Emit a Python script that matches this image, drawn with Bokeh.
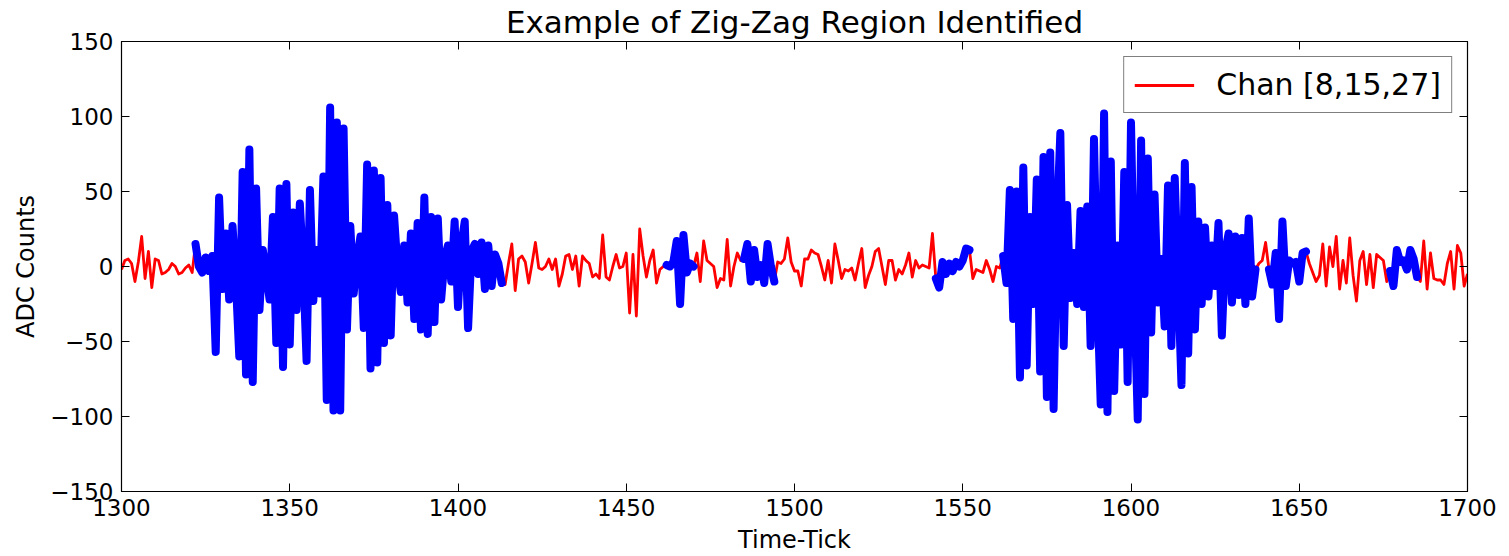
import numpy as np
from bokeh.plotting import figure
from bokeh.models import (Range1d, FixedTicker, LinearAxis, Legend, LegendItem,
                          CustomJSTickFormatter)
from bokeh.embed import file_html
from bokeh.resources import INLINE

# ---- data -------------------------------------------------------------
tick_start = 1300
adc_counts = [
    -2, 4, 5, 2, -10, 3, 20, -8, 10, -14,
    5, 4, -5, -4, -2, 2, 0, -5, -4, -1,
    1, -4, 15, 0, -4, 6, -3, 7, -57, 46,
    -15, 22, -22, 27, -10, -60, 63, -72, 78, -77,
    52, -29, 11, -5, -22, 33, -51, 52, -67, 55,
    -52, 36, -29, 42, 0, -63, 51, -23, 11, -18,
    60, -89, 106, -96, 96, -96, 92, -42, 27, -18,
    5, 20, -41, 68, -68, 64, -64, 59, -51, 41,
    -46, 34, 0, -17, 14, -24, 22, -35, 29, -42,
    46, -45, 33, -37, 32, -22, 5, 14, -10, 30,
    -27, 15, 30, -41, 10, 15, -5, 16, -15, 14,
    -13, 8, 2, -11, -12, 2, 15, -16, 5, 7,
    3, -11, 2, 16, -1, -2, 0, 5, -2, 5,
    -13, -5, 7, 8, -2, 7, -13, 7, 4, 2,
    -7, -5, -8, 21, -7, -9, 0, 8, -1, 0,
    9, -31, 8, -33, 25, 7, -7, 4, 11, -11,
    -2, 0, 1, 0, 3, 17, -25, 21, -4, 2,
    0, 9, -10, 17, 4, 2, 0, -14, -8, -9,
    18, -13, 0, 9, 4, 5, 15, -10, 11, -7,
    1, -11, 15, 0, -10, 3, 2, 5, 19, 3,
    -3, -3, -13, 5, 5, 11, 9, 8, 0, -9,
    4, -11, 15, 4, -8, -2, -3, -1, -9, 2,
    12, -14, -6, 0, 10, 12, 0, -12, 4, 4,
    -9, -2, -5, 1, 9, -7, 4, -1, 1, 0,
    -1, 22, -8, -14, 3, -5, 2, -3, 3, 0,
    4, 12, 11, -8, -2, -3, -4, 4, -2, -10,
    0, -1, 7, -11, 51, -35, 50, -74, 66, -66,
    33, -25, 58, -70, 73, -87, 76, -95, 30, 89,
    -53, 41, -21, 9, -25, 37, -27, 40, -53, 85,
    -20, -92, 102, -97, 70, -83, 14, -52, 63, -77,
    96, -20, -102, 84, -85, 72, -44, 48, -24, 5,
    -40, 54, -53, 59, -10, -79, 69, -58, 53, -42,
    30, -25, 26, -20, 14, -13, 29, -46, 10, 22,
    -24, 20, -19, 19, -25, 32, -20, -2, 2, 4,
    16, -2, -12, 9, -35, 30, -13, 4, 2, 3,
    -10, 9, 10, 2, -4, -10, -6, 15, -13, 13,
    0, 20, -15, 4, -11, 19, -6, -23, 4, 10,
    -12, 8, -14, 8, 6, 4, -10, -3, -13, 11,
    3, 4, -2, 11, 5, -7, -10, 17, -15, 9,
    -8, -9, -9, -12, 2, 10, -15, 14, 9, -13,
    -5,
]
zigzag_start = [1322, 1462, 1485, 1542, 1562, 1641, 1677]
zigzag_end = [1413, 1470, 1494, 1552, 1637, 1652, 1685]
x_ticks = [1300, 1350, 1400, 1450, 1500, 1550, 1600, 1650, 1700]
y_ticks = [-150, -100, -50, 0, 50, 100, 150]
legend_label = "Chan [8,15,27]"
title_text = "Example of Zig-Zag Region Identified"

ticks = np.arange(tick_start, tick_start + len(adc_counts))
adc = np.array(adc_counts, dtype=float)
mask = np.zeros(len(ticks), dtype=bool)
for s, e in zip(zigzag_start, zigzag_end):
    mask |= (ticks >= s) & (ticks <= e)
zz = np.where(mask, adc, np.nan)

FONT = "DejaVu Sans"

p = figure(width=1500, height=556,
           x_range=Range1d(1300, 1700), y_range=Range1d(-150, 150),
           output_backend="svg", toolbar_location=None,
           min_border_left=121, min_border_right=33,
           min_border_top=41, min_border_bottom=62,
           x_axis_label="Time-Tick", y_axis_label="ADC Counts")
p.background_fill_color = "white"
p.border_fill_color = "white"
p.outline_line_color = "black"
p.outline_line_width = 1.2
p.xgrid.visible = False
p.ygrid.visible = False

p.title.text = title_text
p.title.align = "center"
p.title.text_font = FONT
p.title.text_font_size = "31px"
p.title.text_font_style = "normal"
p.title.text_color = "black"
p.title.standoff = 3

minus_fmt = "return tick < 0 ? '\u2212' + Math.abs(tick) : String(tick);"

for ax in (p.xaxis[0], p.yaxis[0]):
    ax.major_tick_in = 8
    ax.major_tick_out = 0
    ax.minor_tick_in = 0
    ax.minor_tick_out = 0
    ax.major_label_text_font = FONT
    ax.major_label_text_font_size = "23px"
    ax.major_label_text_color = "black"
    ax.axis_label_text_font = FONT
    ax.axis_label_text_font_size = "24px"
    ax.axis_label_text_font_style = "normal"
    ax.axis_label_text_color = "black"
    ax.axis_line_color = "black"
    ax.major_tick_line_color = "black"
    ax.formatter = CustomJSTickFormatter(code=minus_fmt)
p.xaxis[0].ticker = FixedTicker(ticks=x_ticks)
p.yaxis[0].ticker = FixedTicker(ticks=y_ticks)
p.xaxis[0].major_label_standoff = 7
p.yaxis[0].major_label_standoff = 8
p.xaxis[0].axis_label_standoff = 7
p.yaxis[0].axis_label_standoff = 7

for loc, tk in (("right", y_ticks), ("above", x_ticks)):
    a = LinearAxis(ticker=FixedTicker(ticks=tk))
    a.major_tick_in = 8
    a.major_tick_out = 0
    a.minor_tick_in = 0
    a.minor_tick_out = 0
    a.major_label_text_font_size = "0px"
    a.major_label_standoff = 0
    a.axis_line_color = "black"
    p.add_layout(a, loc)

r_red = p.line(ticks, adc, color="#ff0000", line_width=2.8, line_join="round")
r_blue = p.line(ticks, zz, color="#0000ff", line_width=8, line_join="round", line_cap="round")

legend = Legend(items=[LegendItem(label=legend_label, renderers=[r_red])],
                location="top_right")
legend.label_text_font = FONT
legend.label_text_font_size = "30px"
legend.label_text_color = "black"
legend.label_height = 28
legend.glyph_width = 60
legend.glyph_height = 28
legend.label_standoff = 22
legend.padding = 10
legend.margin = 15
legend.border_line_color = "black"
legend.border_line_width = 1.2
legend.background_fill_alpha = 1
p.add_layout(legend)

open("out.html", "w").write(file_html(p, INLINE))
